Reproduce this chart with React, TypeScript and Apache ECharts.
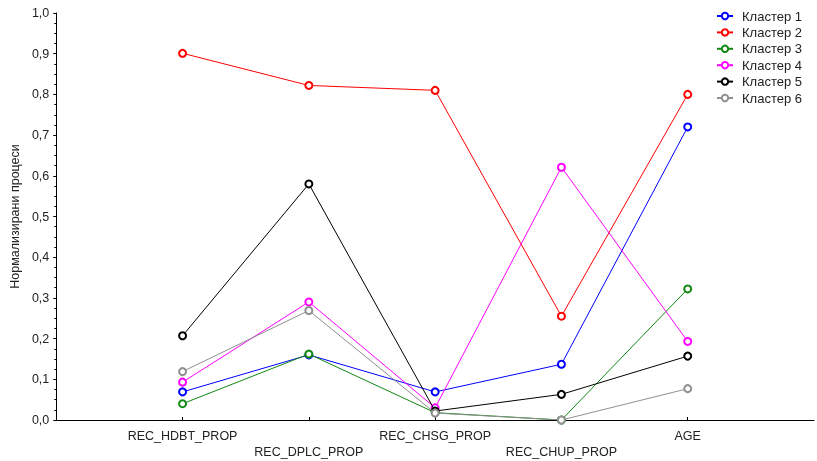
import React, { useEffect, useRef } from "react";
import * as echarts from "echarts";

const categories = ["", "REC_HDBT_PROP", "REC_DPLC_PROP", "REC_CHSG_PROP", "REC_CHUP_PROP", "AGE", ""];
const seriesNames = ["Кластер 1", "Кластер 2", "Кластер 3", "Кластер 4", "Кластер 5", "Кластер 6"];
const cluster1 = [0.069, 0.16, 0.069, 0.137, 0.72];
const cluster2 = [0.901, 0.822, 0.81, 0.255, 0.80];
const cluster3 = [0.04, 0.162, 0.018, 0.0, 0.322];
const cluster4 = [0.093, 0.29, 0.03, 0.621, 0.193];
const cluster5 = [0.207, 0.58, 0.022, 0.063, 0.157];
const cluster6 = [0.119, 0.269, 0.017, 0.0, 0.077];
const yTicks = { min: 0, max: 1, interval: 0.1 };
const colors = ["#0000ff", "#ff0000", "#118811", "#ff00ff", "#000000", "#909090"];

export default function App() {
  const ref = useRef<HTMLDivElement>(null);
  useEffect(() => {
    if (!ref.current) return;
    const chart = echarts.init(ref.current, null, { renderer: "svg" });
    const all = [cluster1, cluster2, cluster3, cluster4, cluster5, cluster6];
    const font = "Liberation Sans, Arial, sans-serif";
    chart.setOption({
      animation: false,
      textStyle: { fontFamily: font },
      grid: { left: 52, width: 768, top: 13, height: 407, containLabel: false },
      legend: {
        orient: "vertical",
        left: 711,
        top: 4,
        itemWidth: 16,
        itemHeight: 8,
        itemGap: 2.4,
        data: seriesNames,
        textStyle: { fontSize: 13, lineHeight: 14, color: "#222", fontFamily: font, padding: [0, 0, 0, 4] },
      },
      xAxis: {
        type: "category",
        data: categories,
        boundaryGap: false,
        axisLine: { lineStyle: { color: "#000", width: 1 } },
        axisTick: {
          inside: true,
          length: 3,
          lineStyle: { color: "#000" },
          interval: (i: number) => i >= 1 && i <= 5,
        },
        axisLabel: {
          interval: 0,
          margin: 8,
          fontSize: 12.5,
          lineHeight: 16,
          color: "#222",
          fontFamily: font,
          formatter: (v: string, i: number) => (v === "" ? "" : i % 2 === 0 ? "\n" + v : v),
        },
        splitLine: { show: false },
      },
      yAxis: {
        type: "value",
        min: yTicks.min,
        max: yTicks.max,
        interval: yTicks.interval,
        name: "Нормализирани процеси",
        nameLocation: "middle",
        nameGap: 32,
        nameTextStyle: { fontSize: 12.5, color: "#222", fontFamily: font },
        axisLine: { show: true, lineStyle: { color: "#000", width: 1 } },
        axisTick: { show: true, length: 3, lineStyle: { color: "#000" } },
        minorTick: { show: true, splitNumber: 4, length: 2, lineStyle: { color: "#000" } },
        axisLabel: {
          fontSize: 12.5,
          color: "#222",
          margin: 7,
          fontFamily: font,
          formatter: (v: number) => v.toFixed(1).replace(".", ","),
        },
        splitLine: { show: false },
      },
      series: all.map((d, k) => ({
        name: seriesNames[k],
        type: "line",
        data: [null, ...d, null],
        symbol: "emptyCircle",
        symbolSize: 7,
        color: colors[k],
        lineStyle: { width: 1, color: colors[k] },
        itemStyle: { color: colors[k], borderColor: colors[k], borderWidth: 1.2 },
        z: 2 + k,
      })),
    });
    return () => chart.dispose();
  }, []);
  return <div ref={ref} style={{ position: "fixed", left: 0, top: 0, width: 817, height: 461 }} />;
}
